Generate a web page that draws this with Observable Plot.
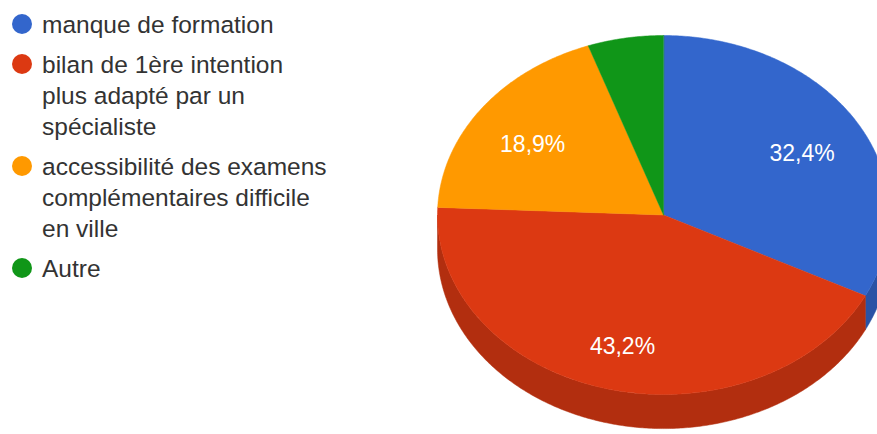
<!DOCTYPE html>
<html><head><meta charset="utf-8">
<script src="https://cdn.jsdelivr.net/npm/d3@7"></script>
<script src="https://cdn.jsdelivr.net/npm/@observablehq/plot@0.6"></script>
<style>
body{margin:0;background:#fff;overflow:hidden;font-family:"Liberation Sans",Arial,sans-serif;}
#wrap{position:relative;width:877px;height:434px;overflow:hidden;}
#legend{position:absolute;left:0;top:9px;color:#333;font-size:24.5px;}
.item{position:relative;padding-left:42px;line-height:31px;margin-bottom:9px;white-space:pre;}
.sw{position:absolute;left:12px;top:5px;width:20px;height:20px;border-radius:50%;}
</style></head><body>
<div id="wrap"><div id="chart"></div><div id="legend"></div></div>
<script>
const categories = ["manque de formation", "bilan de 1ère intention\nplus adapté par un\nspécialiste", "accessibilité des examens\ncomplémentaires difficile\nen ville", "Autre"];
const values = [32.4, 43.2, 18.9, 5.4];
const colors = ["#3366cc", "#dc3912", "#ff9900", "#109618"];

const depth = 0.19;   // side thickness in y units
const arcs = d3.pie().sort(null).value(d => d)(values);
const pt = (a, r = 1) => ({x: r * Math.sin(a), y: -r * Math.cos(a)});
function arcPts(a0, a1) {
  const n = Math.max(2, Math.ceil((a1 - a0) / 0.01));
  return d3.range(n + 1).map(i => pt(a0 + (a1 - a0) * i / n));
}
const marks = [];
// sides (front half only)
arcs.forEach((a, i) => {
  const s0 = Math.max(a.startAngle, Math.PI / 2), s1 = Math.min(a.endAngle, 3 * Math.PI / 2);
  if (s1 <= s0) return;
  const top = arcPts(s0, s1);
  const ring = [...top, ...top.slice().reverse().map(p => ({x: p.x, y: p.y + depth}))];
  const c = d3.color(colors[i]).darker(0.6).formatHex();
  marks.push(Plot.line(ring, {x: "x", y: "y", fill: c, stroke: c, strokeWidth: 0.5, curve: "linear-closed"}));
});
// tops
arcs.forEach((a, i) => {
  const ring = [{x: 0, y: 0}, ...arcPts(a.startAngle, a.endAngle)];
  marks.push(Plot.line(ring, {x: "x", y: "y", fill: colors[i], stroke: colors[i], strokeWidth: 0.5, curve: "linear-closed"}));
});
const fmt = v => d3.format(".1f")(v).replace(".", ",") + "%";
const lab = arcs.filter(a => a.value >= 10).map(a => {
  const m = (a.startAngle + a.endAngle) / 2;
  const p = pt(m, 0.72);
  return {x: p.x, y: p.y + 0.035, text: fmt(a.value)};
});
marks.push(Plot.text(lab, {x: "x", y: "y", text: "text", fill: "white", fontSize: 23, fontFamily: "Liberation Sans, Arial, sans-serif"}));

const chart = Plot.plot({
  width: 877, height: 434, margin: 0,
  x: {domain: [-1, 1], range: [437, 889], axis: null},
  y: {domain: [-1, 1], range: [35, 394], axis: null},
  marks
});
document.getElementById("chart").append(chart);

const leg = d3.select("#legend");
categories.forEach((c, i) => {
  const it = leg.append("div").attr("class", "item");
  it.append("span").attr("class", "sw").style("background", colors[i]);
  it.append("span").text(c);
});
</script>
</body></html>
